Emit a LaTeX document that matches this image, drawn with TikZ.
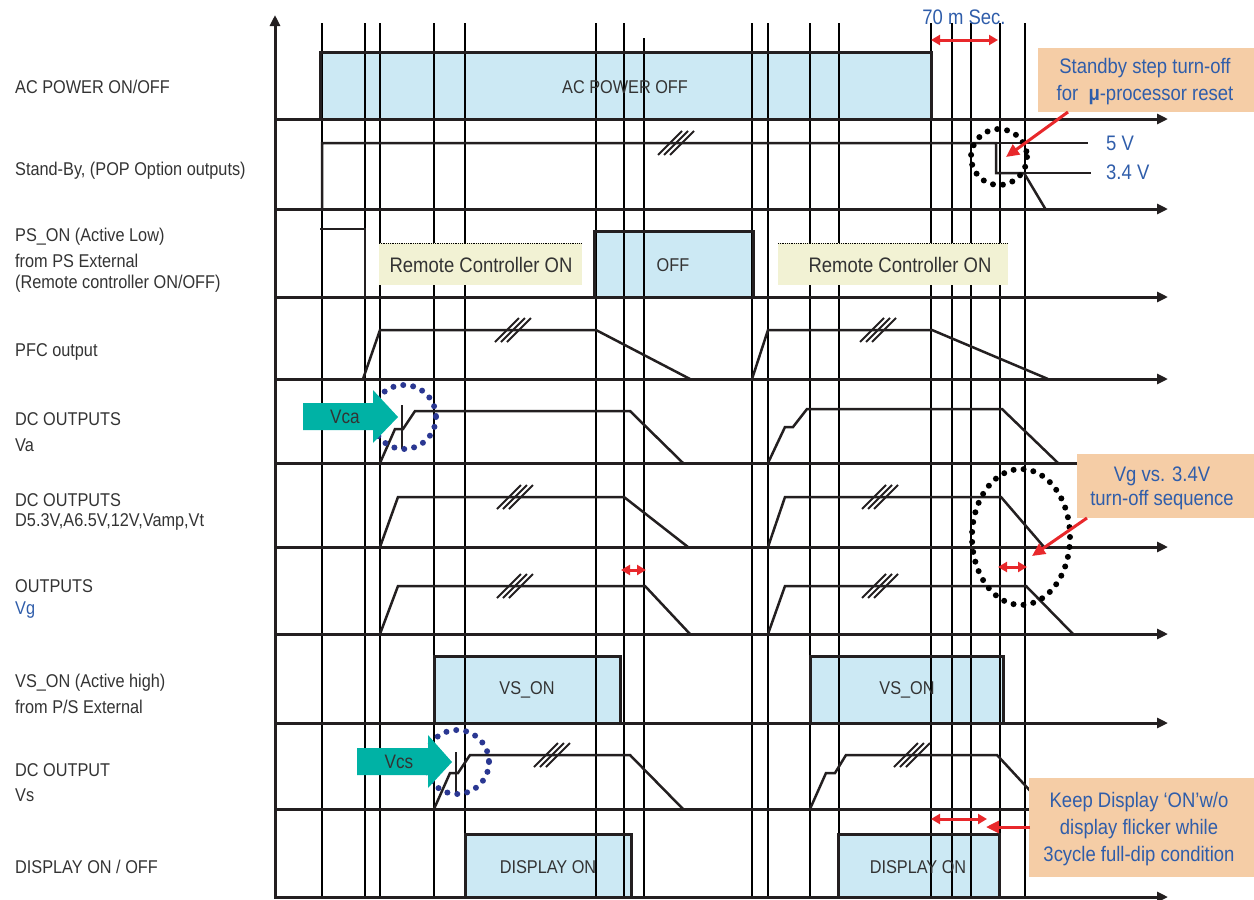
\documentclass[tikz,border=0pt]{standalone}
\usepackage{fontspec}
\setmainfont{Liberation Sans}[FakeStretch=0.88]
\usetikzlibrary{arrows.meta}
\definecolor{lblue}{HTML}{CCE9F4}
\definecolor{ryel}{HTML}{F2F2D4}
\definecolor{peach}{HTML}{F5CDA6}
\definecolor{tblue}{HTML}{2F5DAA}
\definecolor{rred}{HTML}{E8282B}
\definecolor{tealc}{HTML}{00B2A5}
\definecolor{dblue}{HTML}{2A3792}
\definecolor{ink}{HTML}{231F20}
\definecolor{txt}{HTML}{333333}
\newcommand{\brk}[2]{\foreach \ofs in {-6,0,6} {\draw[line width=1.8pt,ink] ({#1+\ofs-12},{#2+12}) -- ({#1+\ofs+12},{#2-12});}}
\tikzset{
  lbl/.style={anchor=west,inner sep=0pt,text=txt,font=\fontsize{18.5}{22}\selectfont},
  boxtxt/.style={inner sep=0pt,text=txt,font=\fontsize{18.5}{22}\selectfont},
  rctxt/.style={inner sep=0pt,text=txt,font=\fontsize{21}{24}\selectfont},
  calltxt/.style={inner sep=0pt,text=tblue,font=\fontsize{21}{27}\selectfont,align=center},
  gridln/.style={line width=1.2pt,black},
  axisln/.style={line width=3pt,ink,-{Triangle[length=11pt,width=10pt]}},
  sig/.style={line width=2.5pt,ink,line join=miter},
  boxedge/.style={line width=3pt,ink},
  redarr/.style={line width=3pt,rred,{Triangle[length=9pt,width=10pt]}-{Triangle[length=9pt,width=10pt]}},
  redone/.style={line width=3pt,rred,-{Triangle[length=13pt,width=12pt]}},
  dotring/.style={line width=6pt,dash pattern=on 0pt off 10pt,line cap=round},
  tealarrow/.style={fill=tealc,draw=none},
}
\begin{document}
\begin{tikzpicture}[x=1pt,y=-1pt]
\useasboundingbox (0,0) rectangle (1254,900);
% blue box fills
\fill[lblue] (320,52) rectangle (931,119);
\fill[lblue] (594,231) rectangle (753,297);
\fill[lblue] (434,656) rectangle (620,722);
\fill[lblue] (810,656) rectangle (1003,722);
\fill[lblue] (465,834) rectangle (631,897);
\fill[lblue] (838,834) rectangle (999,897);
% grid lines
\foreach \gx in {322,365,380,434,465,596,624,752,768,810,839,931,952,971,1000,1025}
  {\draw[gridln] (\gx,23) -- (\gx,897);}
\draw[gridln] (644,38) -- (644,897);
% box edges
\draw[boxedge] (320,119) -- (320,52) -- (931,52) -- (931,119);
\draw[boxedge] (594,297) -- (594,231) -- (753,231) -- (753,297);
\draw[boxedge] (434,722) -- (434,656) -- (620,656) -- (620,722);
\draw[boxedge] (810,722) -- (810,656) -- (1003,656) -- (1003,722);
\draw[boxedge] (465,897) -- (465,834) -- (631,834) -- (631,897);
\draw[boxedge] (838,897) -- (838,834) -- (999,834) -- (999,897);
% remote controller boxes
\fill[ryel] (379,243) rectangle (582,285);
\draw[densely dotted,line width=0.8pt] (379,243) -- (582,243);
\fill[ryel] (778,243) rectangle (1008,285);
\draw[densely dotted,line width=0.8pt] (778,243) -- (1008,243);
% axes
\draw[line width=3pt,ink,-{Triangle[length=11pt,width=10pt]}] (275,898) -- (275,15);
\foreach \ay in {119,209,297,379,463,547,634,723,809,897}
  {\draw[axisln] (274,\ay) -- (1168,\ay);}
% signals
\draw[sig] (322,209) -- (322,143) -- (996,143) -- (996,173) -- (1024,173) -- (1046,210);
\draw[line width=1.2pt,ink] (996,143) -- (1088,143);
\draw[line width=1.2pt,ink] (1024,173) -- (1091,173);
\draw[sig] (320,229) -- (365,229) -- (365,297);
\draw[sig] (363,379) -- (380,330) -- (596,330) -- (690,379);
\draw[sig] (752,379) -- (768,330) -- (932,330) -- (1048,379);
\draw[sig] (380,463) -- (395,429) -- (403,429) -- (415,411) -- (630,411) -- (683,463);
\draw[sig] (768,463) -- (785,427) -- (793,427) -- (807,409) -- (1002,409) -- (1058,463);
\draw[sig] (380,547) -- (398,497) -- (624,497) -- (688,547);
\draw[sig] (768,547) -- (785,497) -- (1001,497) -- (1044,547);
\draw[sig] (380,634) -- (398,586) -- (645,586) -- (690,634);
\draw[sig] (768,634) -- (785,586) -- (1026,586) -- (1073,634);
\draw[sig] (434,809) -- (450,773) -- (458,773) -- (470,755) -- (630,755) -- (683,809);
\draw[sig] (810,809) -- (826,773) -- (835,773) -- (846,755) -- (997,755) -- (1047,809);
\draw[line width=1.5pt,ink] (402,405) -- (402,449);
\draw[line width=1.5pt,ink] (456,752) -- (456,794);
% break marks
\brk{676}{143}
\brk{513}{330}
\brk{878}{330}
\brk{515}{497}
\brk{880}{497}
\brk{515}{586}
\brk{880}{586}
\brk{552}{755}
\brk{912}{755}
% dotted rings
\draw[dotring,black] (999,157) circle[radius=28];
\draw[dotring,black] (1021,537) ellipse[x radius=49,y radius=68];
\draw[dotring,dblue] (404,417) circle[radius=32];
\draw[dotring,dblue] (457,762) circle[radius=32];
% teal arrows
\fill[tealarrow] (303,403) -- (373,403) -- (373,390) -- (398,417) -- (373,443) -- (373,430) -- (303,430) -- cycle;
\node[boxtxt,font=\fontsize{19.5}{22}\selectfont] (vca) at (345,417) {Vca};
\fill[tealarrow] (357,748) -- (428,748) -- (428,735) -- (452,762) -- (428,788) -- (428,775) -- (357,775) -- cycle;
\node[boxtxt,font=\fontsize{19.5}{22}\selectfont] (vcs) at (399,762) {Vcs};
% callouts
\fill[peach] (1038,48) rectangle (1254,112);
\fill[peach] (1077,454) rectangle (1254,518);
\fill[peach] (1029,778) rectangle (1254,877);
% red arrows
\draw[redarr] (931,40) -- (998,40);
\draw[redarr] (621,570) -- (646,570);
\draw[redarr] (998,567) -- (1027,567);
\draw[redarr] (931,819) -- (987,819);
\draw[redone] (1030,827) -- (986,827);
\draw[redone] (1068,112) -- (1006,157);
\draw[redone] (1087,518) -- (1032,556);
% callout texts
\node[calltxt] (c1a) at (1145,68) {Standby step turn-off};
\node[calltxt] (c1b) at (1145,95) {for \ \textbf{μ}-processor reset};
\node[calltxt] (c2a) at (1162,476) {Vg vs. 3.4V};
\node[calltxt] (c2b) at (1162,500) {turn-off sequence};
\node[calltxt] (c3a) at (1139,802) {Keep Display ‘ON’w/o};
\node[calltxt] (c3b) at (1139,829) {display flicker while};
\node[calltxt] (c3c) at (1139,856) {3cycle full-dip condition};
\node[calltxt] (ms) at (964,17) {70 m Sec.};
\node[calltxt,anchor=west] (v5) at (1106,143) {5 V};
\node[calltxt,anchor=west] (v34) at (1106,172) {3.4 V};
% box texts
\node[boxtxt] (acoff) at (625,87) {AC POWER OFF};
\node[rctxt] (rc1) at (481,265) {Remote Controller ON};
\node[rctxt] (rc2) at (900,265) {Remote Controller ON};
\node[boxtxt] (off) at (673,265) {OFF};
\node[boxtxt] (vs1) at (527,690) {VS\_ON};
\node[boxtxt] (vs2) at (907,690) {VS\_ON};
\node[boxtxt] (d1) at (548,867) {DISPLAY ON};
\node[boxtxt] (d2) at (918,867) {DISPLAY ON};
% left labels
\node[lbl] (l1) at (15,87) {AC POWER ON/OFF};
\node[lbl] (l2) at (15,171) {Stand-By, (POP Option outputs)};
\node[lbl] (l3a) at (15,237) {PS\_ON (Active Low)};
\node[lbl] (l3b) at (15,261) {from PS External};
\node[lbl] (l3c) at (15,284) {(Remote controller ON/OFF)};
\node[lbl] (l4) at (15,352) {PFC output};
\node[lbl] (l5a) at (15,419) {DC OUTPUTS};
\node[lbl] (l5b) at (15,445) {Va};
\node[lbl] (l6a) at (15,500) {DC OUTPUTS};
\node[lbl] (l6b) at (15,522) {D5.3V,A6.5V,12V,Vamp,Vt};
\node[lbl] (l7a) at (15,586) {OUTPUTS};
\node[lbl,text=tblue] (l7b) at (15,610) {Vg};
\node[lbl] (l8a) at (15,683) {VS\_ON (Active high)};
\node[lbl] (l8b) at (15,707) {from P/S External};
\node[lbl] (l9a) at (15,770) {DC OUTPUT};
\node[lbl] (l9b) at (15,795) {Vs};
\node[lbl] (l10) at (15,867) {DISPLAY ON / OFF};
\end{tikzpicture}
\end{document}
